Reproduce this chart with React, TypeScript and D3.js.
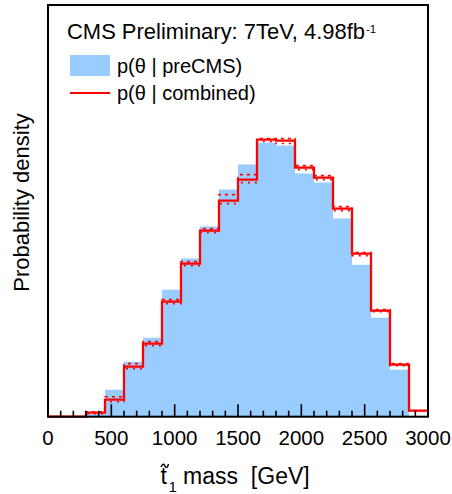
import React from "react";
import * as d3 from "d3";

const binEdges = [0, 150, 300, 450, 600, 750, 900, 1050, 1200, 1350, 1500, 1650, 1800, 1950, 2100, 2250, 2400, 2550, 2700, 2850, 3000];
const preCMS = [0, 0, 0.03, 0.27, 0.55, 0.79, 1.27, 1.58, 1.9, 2.27, 2.52, 2.74, 2.71, 2.43, 2.34, 1.98, 1.52, 0.99, 0.47, 0];
const combined = [0, 0, 0.04, 0.17, 0.5, 0.73, 1.15, 1.53, 1.86, 2.16, 2.37, 2.77, 2.76, 2.49, 2.39, 2.08, 1.63, 1.06, 0.52, 0.06];
const combinedUp = [0, 0, 0.05, 0.2, 0.53, 0.75, 1.17, 1.55, 1.88, 2.22, 2.42, 2.78, 2.78, 2.51, 2.41, 2.1, 1.64, 1.07, 0.53, 0.06];
const combinedDown = [0, 0, 0.03, 0.15, 0.48, 0.71, 1.13, 1.51, 1.84, 2.13, 2.34, 2.75, 2.73, 2.47, 2.37, 2.06, 1.61, 1.05, 0.51, 0.06];
const majorTicks = [0, 500, 1000, 1500, 2000, 2500, 3000];
const minorTicks = [100, 200, 300, 400, 600, 700, 800, 900, 1100, 1200, 1300, 1400, 1600, 1700, 1800, 1900, 2100, 2200, 2300, 2400, 2600, 2700, 2800, 2900];

const W = 452, H = 494;
const L = 48, R = 428, T = 5, B = 416.7;
const FONT = "'Liberation Sans', Arial, sans-serif";

export default function App() {
  const x = d3.scaleLinear().domain([0, 3000]).range([L, R]);
  const y = d3.scaleLinear().domain([0, 4.115]).range([B, T]);

  const pts = (vals: number[]) =>
    binEdges.map((e, i) => [e, vals[Math.min(i, vals.length - 1)]] as [number, number]);

  const area = d3
    .area<[number, number]>()
    .x((d) => x(d[0]))
    .y0(y(0))
    .y1((d) => y(d[1]))
    .curve(d3.curveStepAfter);
  const line = d3
    .line<[number, number]>()
    .x((d) => x(d[0]))
    .y((d) => y(d[1]))
    .curve(d3.curveStepAfter);

  return (
    <div style={{ position: "absolute", left: 0, top: 0 }}>
      <svg width={W} height={H} style={{ display: "block", background: "#fff" }} fontFamily={FONT}>
        <path d={area(pts(preCMS)) || ""} fill="#99ccff" />
        <path d={line(pts(combinedUp)) || ""} fill="none" stroke="#ff0000" strokeWidth={1.6} strokeDasharray="3 4" />
        <path d={line(pts(combinedDown)) || ""} fill="none" stroke="#ff0000" strokeWidth={1.6} strokeDasharray="2 5" />
        <path d={line(pts(combined)) || ""} fill="none" stroke="#ff0000" strokeWidth={2.3} />

        {minorTicks.map((t) => (
          <line key={"m" + t} x1={x(t)} x2={x(t)} y1={B} y2={B - 6} stroke="#000" strokeWidth={1.6} />
        ))}
        {majorTicks.map((t) => (
          <line key={"M" + t} x1={x(t)} x2={x(t)} y1={B} y2={B - 12.5} stroke="#000" strokeWidth={1.6} />
        ))}
        <rect x={L} y={T} width={R - L} height={B - T} fill="none" stroke="#000" strokeWidth={2} />

        {majorTicks.map((t) => (
          <text key={"l" + t} x={x(t)} y={445} fontSize={20.5} textAnchor="middle" fill="#000">
            {t}
          </text>
        ))}

        <text x={160.5} y={483.5} fontSize={23} fill="#000" style={{ whiteSpace: "pre" }}>
          <tspan>t</tspan>
          <tspan fontSize={15} dy={8} dx={1.5}>1</tspan>
          <tspan dy={-8}>{" mass\u00a0\u00a0[GeV]"}</tspan>
        </text>
        <path d="M161,467 C162.5,463.5 164,463.5 165,466 S167.5,468 168.5,464" fill="none" stroke="#000" strokeWidth={1.4} />

        <text transform={`translate(28.5,202.5) rotate(-90)`} fontSize={22} textAnchor="middle" fill="#000">
          Probability density
        </text>

        <text x={67} y={39} fontSize={22} fill="#000" textLength={298} lengthAdjust="spacingAndGlyphs">
          CMS Preliminary: 7TeV, 4.98fb
        </text>
        <text x={366} y={33} fontSize={11.5} fill="#000">-1</text>
        <rect x={70} y={55} width={40} height={21} fill="#99ccff" />
        <text x={117} y={73} fontSize={20} fill="#000">p(θ | preCMS)</text>
        <line x1={70} x2={110} y1={93} y2={93} stroke="#ff0000" strokeWidth={2} />
        <text x={117} y={99.5} fontSize={20} fill="#000">p(θ | combined)</text>
      </svg>
    </div>
  );
}
